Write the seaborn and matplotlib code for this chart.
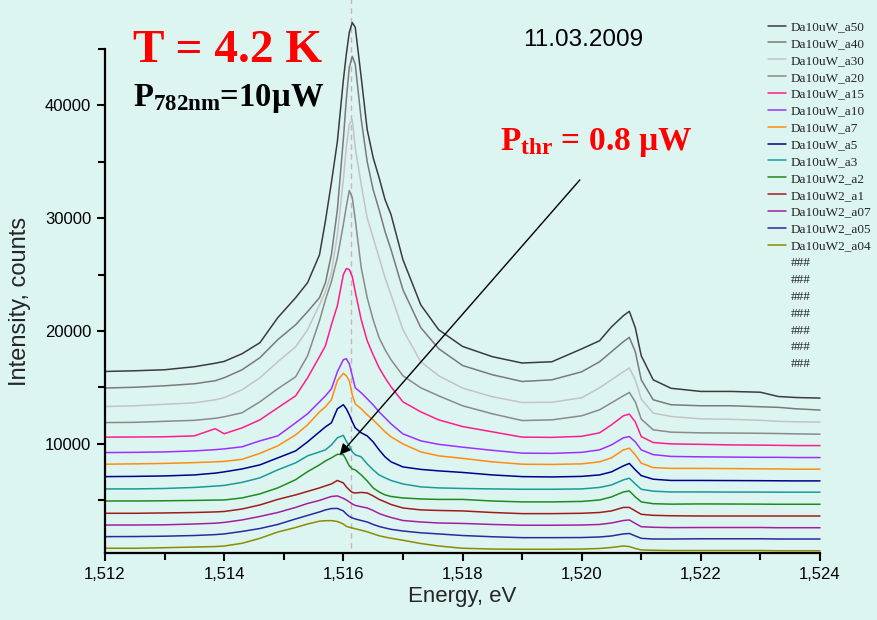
import matplotlib
matplotlib.use("Agg")
import matplotlib.pyplot as plt
from matplotlib.lines import Line2D
from matplotlib.ticker import MultipleLocator, FuncFormatter
import numpy as np
import pandas as pd
import seaborn as sns

# Photon energy grid, eV
energy = [1.5120, 1.5125, 1.5130, 1.5135, 1.51385, 1.5140, 1.5143, 1.5146, 1.5149, 1.5152,
          1.5154, 1.5156, 1.5157, 1.5158, 1.5159, 1.5160, 1.51605, 1.5161, 1.51615, 1.5162,
          1.5163, 1.5164, 1.5165, 1.5166, 1.5167, 1.5168, 1.5170, 1.5173, 1.5176, 1.5180,
          1.5185, 1.5190, 1.5195, 1.5200, 1.5203, 1.5205, 1.5207, 1.5208, 1.5209, 1.5210,
          1.5212, 1.5215, 1.5220, 1.5225, 1.5230, 1.5233, 1.5236, 1.5240]

# PL spectra (counts), each with its own vertical offset
a50 = [16420, 16480, 16570, 16840, 17150, 17310, 17990, 18970, 21190, 22960,
       24290, 26760, 29780, 33170, 36800, 42230, 44530, 46480, 47340, 46930,
       42490, 37870, 35380, 33600, 31650, 30330, 26330, 22320, 20120, 18640,
       17730, 17170, 17280, 18420, 19140, 20370, 21360, 21750, 20300, 17810,
       15680, 14930, 14650, 14650, 14580, 14200, 14110, 14060]
a40 = [14950, 15020, 15150, 15330, 15600, 15860, 16570, 17640, 19240, 20560,
       21720, 22960, 24290, 26780, 30760, 36980, 40530, 43370, 44350, 43640,
       38760, 35030, 32540, 30760, 28820, 27220, 23670, 20300, 18440, 16950,
       16130, 15530, 15680, 16390, 17280, 18170, 19060, 19440, 18170, 15680,
       13910, 13470, 13380, 13380, 13290, 13240, 13110, 13000]
a30 = [13310, 13380, 13510, 13640, 13910, 14090, 14800, 15860, 17280, 18610,
       20120, 22340, 23500, 25180, 28540, 33420, 36260, 38310, 38760, 36260,
       32980, 30050, 28280, 26510, 24730, 23220, 20120, 17280, 16040, 14950,
       14180, 13670, 13690, 14090, 14970, 15680, 16390, 16720, 15680, 13970,
       12730, 12430, 12220, 12180, 12090, 12000, 11960, 11930]
a20 = [11890, 11910, 12000, 12090, 12270, 12400, 12760, 13730, 14890, 15950,
       17810, 20920, 22780, 24380, 26510, 29440, 31040, 32460, 31840, 29880,
       25620, 22960, 21010, 19410, 18350, 17460, 16040, 14970, 14260, 13380,
       12670, 12070, 12130, 12490, 13020, 13640, 14260, 14560, 13730, 12200,
       11250, 11040, 10980, 10960, 10940, 10920, 10890, 10860]
a15 = [10600, 10610, 10630, 10710, 11350, 10900, 11420, 12130, 13200, 14260,
       15860, 17730, 18700, 20560, 22250, 25000, 25540, 25450, 24830, 23490,
       21010, 19150, 17900, 16750, 15860, 15060, 13730, 12840, 12130, 11540,
       11070, 10600, 10580, 10670, 10980, 11690, 12490, 12640, 11950, 10650,
       10120, 10000, 9960, 9910, 9890, 9870, 9850, 9850]
a10 = [9230, 9250, 9290, 9380, 9490, 9560, 9740, 10270, 10710, 11870,
       12670, 13730, 14260, 14880, 16390, 17460, 17550, 17100, 16040, 14970,
       14530, 14000, 13460, 12840, 12310, 11780, 10890, 10270, 9960, 9710,
       9430, 9180, 9160, 9250, 9470, 9910, 10540, 10650, 10180, 9470,
       9050, 8890, 8850, 8830, 8810, 8810, 8790, 8790]
a7 = [8200, 8230, 8270, 8340, 8410, 8450, 8630, 9160, 9830, 10800,
      11690, 12840, 13290, 13910, 15600, 16260, 16040, 15600, 14350, 13550,
      13110, 12580, 12130, 11600, 11070, 10630, 10000, 9290, 8940, 8720,
      8410, 8200, 8180, 8230, 8410, 8760, 9470, 9620, 9030, 8290,
      7900, 7830, 7830, 7810, 7790, 7780, 7760, 7760]
a5 = [7100, 7120, 7160, 7250, 7410, 7520, 7780, 8140, 8760, 9380,
      10180, 11070, 11510, 11870, 13110, 13470, 13110, 12580, 11960, 11420,
      10980, 10710, 10180, 9470, 8850, 8410, 7960, 7740, 7610, 7470,
      7250, 7100, 7070, 7120, 7250, 7520, 8050, 8270, 7700, 7190,
      6870, 6760, 6760, 6750, 6740, 6730, 6720, 6720]
a3 = [6010, 6010, 6050, 6140, 6260, 6320, 6590, 6990, 7700, 8320,
      8940, 9290, 9470, 9910, 10540, 10760, 10230, 9830, 9290, 9030,
      8850, 8230, 7700, 7250, 6990, 6760, 6450, 6190, 6100, 6050,
      6010, 5980, 5980, 6010, 6140, 6360, 6810, 6960, 6450, 5980,
      5810, 5740, 5740, 5730, 5730, 5720, 5720, 5720]
a2 = [4940, 4940, 4960, 4990, 5020, 5030, 5210, 5570, 6100, 6830,
      7540, 8140, 8490, 8760, 9080, 9050, 8580, 8050, 7780, 7700,
      7250, 6720, 6100, 5740, 5480, 5340, 5210, 5120, 5080, 5080,
      4940, 4860, 4860, 4900, 5030, 5300, 5740, 5830, 5300, 4860,
      4700, 4660, 4680, 4670, 4660, 4650, 4650, 4650]
a1 = [3850, 3850, 3880, 3920, 3970, 4010, 4230, 4590, 5080, 5480,
      5790, 6100, 6280, 6450, 6760, 6540, 6190, 5920, 5700, 5650,
      5700, 5650, 5390, 5080, 4860, 4630, 4320, 4150, 4100, 4060,
      3920, 3820, 3820, 3850, 3920, 4060, 4370, 4370, 4060, 3760,
      3670, 3630, 3610, 3610, 3610, 3610, 3610, 3610]
a07 = [2810, 2810, 2830, 2900, 2970, 3040, 3260, 3570, 3920, 4370,
       4720, 4990, 5170, 5340, 5390, 5170, 5030, 4860, 4680, 4550,
       4430, 4320, 4100, 3830, 3640, 3480, 3210, 3080, 2990, 2950,
       2860, 2790, 2790, 2810, 2860, 2990, 3210, 3260, 2950, 2660,
       2610, 2580, 2590, 2590, 2590, 2570, 2570, 2570]
a05 = [1780, 1790, 1820, 1880, 1960, 2020, 2240, 2500, 2860, 3350,
       3660, 3970, 4150, 4270, 4280, 4060, 3790, 3570, 3440, 3350,
       3210, 3080, 2860, 2680, 2550, 2430, 2280, 2120, 2020, 1880,
       1770, 1690, 1690, 1700, 1750, 1840, 2020, 2060, 1840, 1630,
       1570, 1570, 1590, 1590, 1590, 1570, 1570, 1570]
a04 = [750, 750, 800, 860, 900, 950, 1190, 1630, 2190, 2590,
       2900, 3150, 3190, 3200, 3120, 2900, 2700, 2610, 2550, 2480,
       2350, 2210, 2030, 1860, 1740, 1640, 1460, 1170, 950, 750,
       680, 660, 660, 680, 730, 820, 950, 900, 730, 600,
       570, 550, 550, 550, 550, 530, 530, 530]

series_names = ["Da10uW_a50", "Da10uW_a40", "Da10uW_a30", "Da10uW_a20", "Da10uW_a15",
                "Da10uW_a10", "Da10uW_a7", "Da10uW_a5", "Da10uW_a3", "Da10uW2_a2",
                "Da10uW2_a1", "Da10uW2_a07", "Da10uW2_a05", "Da10uW2_a04"]
series_values = [a50, a40, a30, a20, a15, a10, a7, a5, a3, a2, a1, a07, a05, a04]
series_colors = ["#3c3c3c", "#7a7a7a", "#c4c4c4", "#8a8a8a", "#ff1c8c", "#9b30ff",
                 "#ff8c10", "#00008b", "#1a9a9a", "#1e8c1e", "#a01c1c", "#a020a0",
                 "#2a2aa0", "#8c8c00"]
empty_entries = ["###"] * 7

peak_marker_energy = 1.51613
arrow_tail = (1.51997, 33400)
arrow_head = (1.51594, 9030)

bg = "#ddf5f0"

frames = [pd.DataFrame({"Energy": energy, "Intensity": v, "Sample": n})
          for n, v in zip(series_names, series_values)]
df = pd.concat(frames, ignore_index=True)

sns.set_theme(style="ticks")
plt.rcParams["font.family"] = ["Liberation Sans", "DejaVu Sans"]
plt.rcParams["mathtext.fontset"] = "custom"
plt.rcParams["mathtext.rm"] = "Liberation Serif"
plt.rcParams["mathtext.bf"] = "Liberation Serif:bold"
plt.rcParams["mathtext.it"] = "Liberation Serif:italic"

fig = plt.figure(figsize=(8.77, 6.2), dpi=100, facecolor=bg)
ax = fig.add_axes([105 / 877, 1 - 553 / 620, 715 / 877, 504 / 620])
ax.set_facecolor(bg)

sns.lineplot(data=df, x="Energy", y="Intensity", hue="Sample",
             hue_order=series_names, palette=dict(zip(series_names, series_colors)),
             sort=False, estimator=None, linewidth=1.1, legend=False,
             clip_on=False, ax=ax)

ax.axvline(peak_marker_energy, ymin=0.01, ymax=1.1, color="#c9b4bc",
           lw=1.0, ls=(0, (4, 3)), clip_on=False, zorder=0)

ax.set_xlim(1.512, 1.524)
ax.set_ylim(330, 45000)
ax.xaxis.set_major_locator(MultipleLocator(0.002))
ax.xaxis.set_minor_locator(MultipleLocator(0.001))
ax.yaxis.set_major_locator(MultipleLocator(10000))
ax.yaxis.set_minor_locator(MultipleLocator(5000))
ax.xaxis.set_major_formatter(FuncFormatter(lambda v, p: f"{v:.3f}".replace(".", ",")))
ax.yaxis.set_major_formatter(FuncFormatter(lambda v, p: f"{int(round(v))}"))

for s in ["top", "right"]:
    ax.spines[s].set_visible(False)
for s in ["left", "bottom"]:
    ax.spines[s].set_linewidth(1.6)
    ax.spines[s].set_color("black")
ax.tick_params(which="major", direction="out", length=6, width=1.5, labelsize=12,
               colors="black", pad=4)
ax.tick_params(which="minor", direction="out", length=5, width=1.5, colors="black")

ax.set_xlabel("Energy, eV", fontsize=16, labelpad=3)
ax.set_ylabel("Intensity, counts", fontsize=17, labelpad=10)

# legend: spectra plus empty placeholder rows
handles = [Line2D([], [], color=c, lw=1.1) for c in series_colors]
handles += [Line2D([], [], color="none") for _ in empty_entries]
labels = series_names + empty_entries
leg = fig.legend(handles, labels, loc="upper left", bbox_to_anchor=(768 / 877, 1 - 21 / 620),
                 frameon=False, prop={"family": "Liberation Serif", "size": 9.5},
                 handlelength=1.4, handletextpad=0.3, labelspacing=0.35,
                 borderpad=0, borderaxespad=0)

serif_bold = dict(family="Liberation Serif", weight="bold")
fig.text(133 / 877, 1 - 62 / 620, "T = 4.2 K", color="#ff0000", fontsize=34,
         va="baseline", ha="left", **serif_bold)
fig.text(133 / 877, 1 - 106 / 620, r"P$_{\mathbf{782nm}}$=10µW", color="black",
         fontsize=23.5, va="baseline", ha="left", **serif_bold)
fig.text(500 / 877, 1 - 150 / 620, r"P$_{\mathbf{thr}}$ = 0.8 µW", color="#ff0000",
         fontsize=24, va="baseline", ha="left", **serif_bold)
fig.text(583 / 877, 1 - 40 / 620, "11.03.2009", color="black", fontsize=17.5,
         va="center", ha="center")

ax.annotate("", xy=arrow_head, xytext=arrow_tail,
            arrowprops=dict(arrowstyle="-|>", color="black", lw=1.0,
                            mutation_scale=16, shrinkA=0, shrinkB=0),
            annotation_clip=False)

fig.savefig("out.png", dpi=100, facecolor=bg)
